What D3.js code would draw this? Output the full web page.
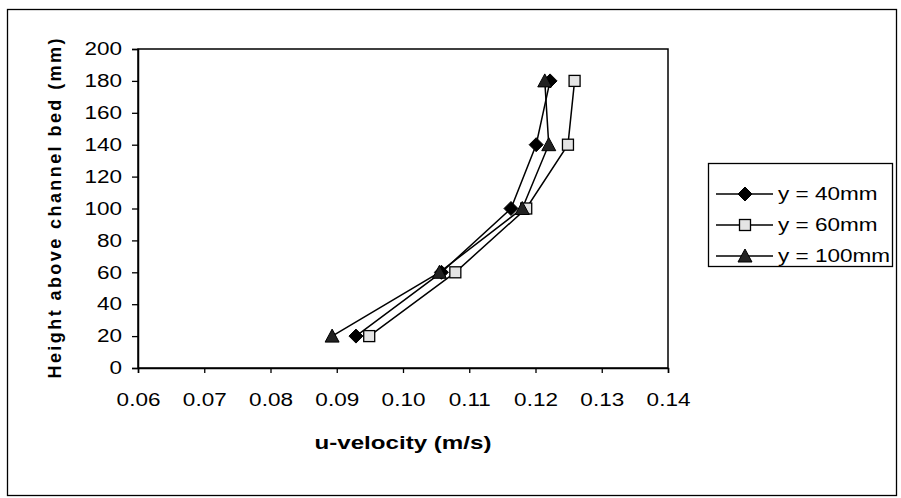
<!DOCTYPE html>
<html>
<head>
<meta charset="UTF-8">
<script src="https://d3js.org/d3.v7.min.js"></script>
<style>
  body { margin: 0; background: #fff; }
  svg text { font-family: "Liberation Sans", Arial, sans-serif; fill: #000; }
</style>
</head>
<body>
<div id="chart"></div>
<script>
// heights above channel bed (mm)
const heights = [20, 60, 100, 140, 180];
// u-velocity (m/s) per lateral position
const u40 = [0.0929, 0.1058, 0.1163, 0.1201, 0.1222];
const u60 = [0.0949, 0.1079, 0.1186, 0.1249, 0.1259];
const u100 = [0.0893, 0.1055, 0.1180, 0.1220, 0.1214];
const seriesNames = ["y = 40mm", "y = 60mm", "y = 100mm"];
const xTicks = [0.06, 0.07, 0.08, 0.09, 0.10, 0.11, 0.12, 0.13, 0.14];
const yTicks = [0, 20, 40, 60, 80, 100, 120, 140, 160, 180, 200];

const W = 901, H = 498;
const plot = { left: 138, top: 49, right: 668, bottom: 368 };
const stretch = 1.25; // the scanned text is wider than plain Arial

const svg = d3.select("#chart").append("svg")
    .attr("width", W).attr("height", H);

// widen a text element horizontally
function widen(sel) {
    sel.each(function() {
        const w = this.getComputedTextLength();
        d3.select(this).attr("textLength", w * stretch).attr("lengthAdjust", "spacingAndGlyphs");
    });
}

// outer frame
svg.append("rect")
    .attr("x", 7.5).attr("y", 9.5)
    .attr("width", 889).attr("height", 486)
    .attr("fill", "none").attr("stroke", "#000").attr("stroke-width", 1.3);

const x = d3.scaleLinear().domain([0.06, 0.14]).range([plot.left, plot.right]);
const y = d3.scaleLinear().domain([0, 200]).range([plot.bottom, plot.top]);

// plot area border
svg.append("rect")
    .attr("x", plot.left).attr("y", plot.top)
    .attr("width", plot.right - plot.left).attr("height", plot.bottom - plot.top)
    .attr("fill", "none").attr("stroke", "#000").attr("stroke-width", 1.5);

const xAxis = svg.append("g")
    .attr("transform", `translate(0,${plot.bottom})`)
    .call(d3.axisBottom(x).tickValues(xTicks).tickFormat(d3.format(".2f")).tickSize(5).tickPadding(20));
const yAxis = svg.append("g")
    .attr("transform", `translate(${plot.left},0)`)
    .call(d3.axisLeft(y).tickValues(yTicks).tickSize(6).tickPadding(10));

[xAxis, yAxis].forEach(a => {
    a.select(".domain").attr("stroke", "#000").attr("stroke-width", 1.5);
    a.selectAll(".tick line").attr("stroke", "#000").attr("stroke-width", 1.3);
    a.selectAll(".tick text").attr("font-size", 18)
        .attr("font-family", "Liberation Sans, Arial, sans-serif").attr("fill", "#000")
        .call(widen);
});

// axis titles
svg.append("text")
    .attr("x", 403).attr("y", 449)
    .attr("text-anchor", "middle").attr("font-size", 19).attr("font-weight", "bold")
    .attr("textLength", 177).attr("lengthAdjust", "spacingAndGlyphs")
    .text("u-velocity (m/s)");
svg.append("text")
    .attr("transform", `translate(61,${(plot.top + plot.bottom) / 2}) rotate(-90)`)
    .attr("text-anchor", "middle").attr("font-size", 18).attr("font-weight", "bold")
    .attr("textLength", 340).attr("lengthAdjust", "spacing")
    .text("Height above channel bed (mm)");

const series = [
    { name: seriesNames[0], vals: u40, shape: "diamond" },
    { name: seriesNames[1], vals: u60, shape: "square" },
    { name: seriesNames[2], vals: u100, shape: "triangle" }
];

function drawMarker(g, shape, cx, cy) {
    if (shape === "diamond") {
        g.append("path")
            .attr("d", `M${cx},${cy - 7}L${cx + 7},${cy}L${cx},${cy + 7}L${cx - 7},${cy}Z`)
            .attr("fill", "#000").attr("stroke", "#000");
    } else if (shape === "square") {
        g.append("rect")
            .attr("x", cx - 5.5).attr("y", cy - 5.5).attr("width", 11).attr("height", 11)
            .attr("fill", "#e4e4e4").attr("stroke", "#000").attr("stroke-width", 1.3);
    } else {
        g.append("path")
            .attr("d", `M${cx},${cy - 7}L${cx + 7},${cy + 6}L${cx - 7},${cy + 6}Z`)
            .attr("fill", "#222").attr("stroke", "#000");
    }
}

const line = d3.line().x(d => x(d[0])).y(d => y(d[1]));

series.forEach(s => {
    const pts = s.vals.map((v, i) => [v, heights[i]]);
    svg.append("path").datum(pts)
        .attr("d", line)
        .attr("fill", "none").attr("stroke", "#000").attr("stroke-width", 1.5);
});
series.forEach(s => {
    const g = svg.append("g");
    s.vals.forEach((v, i) => drawMarker(g, s.shape, x(v), y(heights[i])));
});

// legend
const lg = svg.append("g");
lg.append("rect")
    .attr("x", 708.5).attr("y", 163.5).attr("width", 184).attr("height", 103)
    .attr("fill", "#fff").attr("stroke", "#000").attr("stroke-width", 1.3);
series.forEach((s, i) => {
    const cy = 194 + i * 31;
    lg.append("line")
        .attr("x1", 716).attr("x2", 773).attr("y1", cy).attr("y2", cy)
        .attr("stroke", "#000").attr("stroke-width", 1.3);
    drawMarker(lg, s.shape, 745, cy);
    lg.append("text")
        .attr("x", 778).attr("y", cy + 6)
        .attr("font-size", 18)
        .text(s.name)
        .call(widen);
});
</script>
</body>
</html>
